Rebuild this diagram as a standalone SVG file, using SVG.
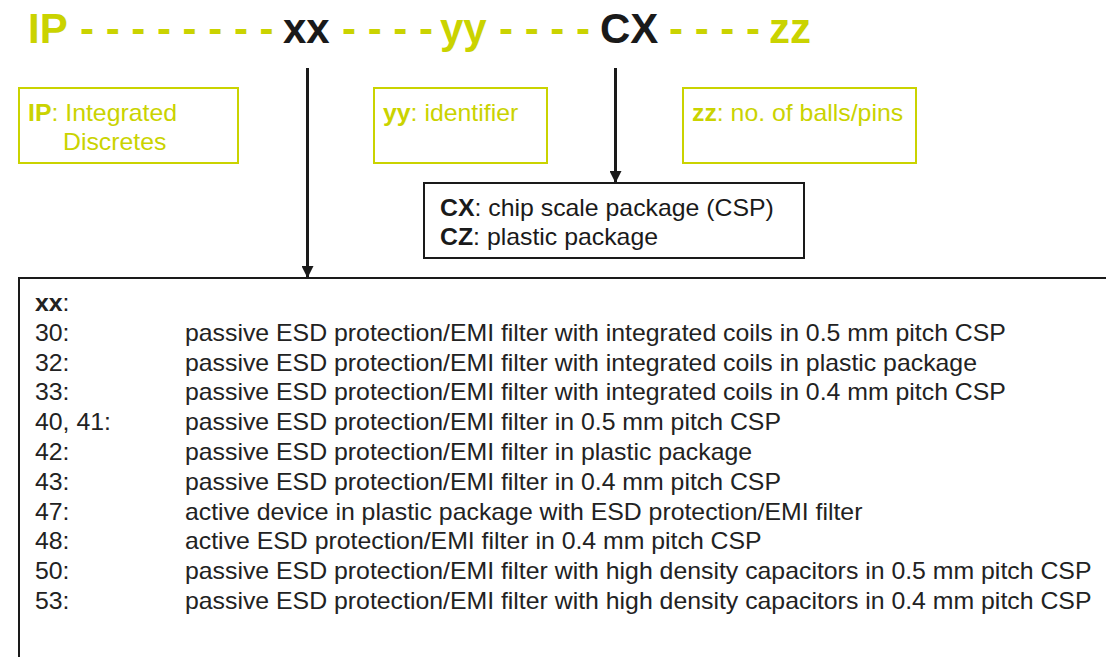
<svg xmlns="http://www.w3.org/2000/svg" width="1106" height="657" viewBox="0 0 1106 657">
<style>
text{font-family:"Liberation Sans",Arial,sans-serif}
.hdr{font-size:42px;font-weight:bold}
.y{fill:#cad300}
.k{fill:#1a1a1a}
.ybox{fill:none;stroke:#cad300;stroke-width:2}
.kbox{fill:#fff;stroke:#1a1a1a;stroke-width:2}
.lbl{font-size:23px}
.cx{font-size:23px;fill:#1a1a1a}
.lst{font-size:23px;fill:#222}
.b{font-weight:bold}
.conn{stroke:#1a1a1a;stroke-width:3;fill:none}
</style>
<defs>
<marker id="ah" viewBox="0 0 10 10" refX="10" refY="5" markerWidth="4" markerHeight="4" orient="auto" markerUnits="strokeWidth">
<path d="M0,0 L10,5 L0,10 z" fill="#1a1a1a"/>
</marker>
</defs>
<rect width="1106" height="657" fill="#fff"/>
<g id="header">
<text class="hdr" y="43"><tspan class="y" x="28">IP</tspan><tspan class="y" x="80">- - - - - - - -</tspan><tspan class="k" x="283">xx</tspan><tspan class="y" x="342">- - - -</tspan><tspan class="y" x="440">yy</tspan><tspan class="y" x="499">- - - -</tspan><tspan class="k" x="600">CX</tspan><tspan class="y" x="669">- - - -</tspan><tspan class="y" x="769">zz</tspan></text>
</g>
<g id="ip-box">
<rect class="ybox" x="19" y="88" width="219" height="75"/>
<text class="lbl y" transform="translate(28,121) scale(1.08,1)"><tspan class="b">IP</tspan>: Integrated</text>
<text class="lbl y" transform="translate(63,150) scale(1.08,1)">Discretes</text>
</g>
<g id="yy-box">
<rect class="ybox" x="374" y="88" width="173" height="75"/>
<text class="lbl y" transform="translate(383,121) scale(1.08,1)"><tspan class="b">yy</tspan>: identifier</text>
</g>
<g id="zz-box">
<rect class="ybox" x="683" y="88" width="233" height="75"/>
<text class="lbl y" transform="translate(692,121) scale(1.08,1)"><tspan class="b">zz</tspan>: no. of balls/pins</text>
</g>
<g id="cx-box">
<rect class="kbox" x="424" y="183" width="380" height="75"/>
<text class="cx" transform="translate(440,216) scale(1.08,1)"><tspan class="b">CX</tspan>: chip scale package (CSP)</text>
<text class="cx" transform="translate(440,245) scale(1.08,1)"><tspan class="b">CZ</tspan>: plastic package</text>
</g>
<g id="xx-box">
<rect class="kbox" x="19" y="278" width="1100" height="400"/>
<g transform="translate(35,2) scale(1.08,1)">
<text class="lst" y="309"><tspan class="b">xx</tspan>:</text>
<text class="lst" y="338.8">30:</text>
<text class="lst" y="368.6">32:</text>
<text class="lst" y="398.4">33:</text>
<text class="lst" y="428.2">40, 41:</text>
<text class="lst" y="458">42:</text>
<text class="lst" y="487.8">43:</text>
<text class="lst" y="517.6">47:</text>
<text class="lst" y="547.4">48:</text>
<text class="lst" y="577.2">50:</text>
<text class="lst" y="607">53:</text>
</g>
<g transform="translate(185,2) scale(1.08,1)">
<text class="lst" y="338.8">passive ESD protection/EMI filter with integrated coils in 0.5 mm pitch CSP</text>
<text class="lst" y="368.6">passive ESD protection/EMI filter with integrated coils in plastic package</text>
<text class="lst" y="398.4">passive ESD protection/EMI filter with integrated coils in 0.4 mm pitch CSP</text>
<text class="lst" y="428.2">passive ESD protection/EMI filter in 0.5 mm pitch CSP</text>
<text class="lst" y="458">passive ESD protection/EMI filter in plastic package</text>
<text class="lst" y="487.8">passive ESD protection/EMI filter in 0.4 mm pitch CSP</text>
<text class="lst" y="517.6">active device in plastic package with ESD protection/EMI filter</text>
<text class="lst" y="547.4">active ESD protection/EMI filter in 0.4 mm pitch CSP</text>
<text class="lst" y="577.2">passive ESD protection/EMI filter with high density capacitors in 0.5 mm pitch CSP</text>
<text class="lst" y="607">passive ESD protection/EMI filter with high density capacitors in 0.4 mm pitch CSP</text>
</g>
</g>
<g id="connectors">
<line class="conn" x1="307.5" y1="68" x2="307.5" y2="278" marker-end="url(#ah)"/>
<line class="conn" x1="615.5" y1="68" x2="615.5" y2="183" marker-end="url(#ah)"/>
</g>
</svg>
